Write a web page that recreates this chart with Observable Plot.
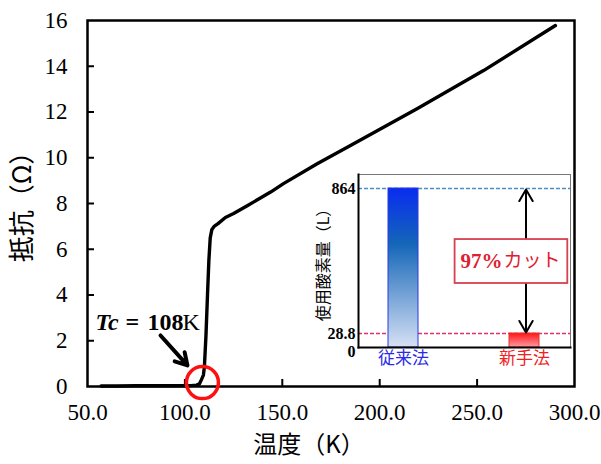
<!DOCTYPE html>
<html>
<head>
<meta charset="utf-8">
<script src="https://cdn.jsdelivr.net/npm/d3@7"></script>
<script src="https://cdn.jsdelivr.net/npm/@observablehq/plot@0.6"></script>
<style>
  body { margin: 0; background: white; }
  #chart { position: relative; width: 601px; height: 464px; background: white; }
  #chart svg { position: absolute; overflow: visible; }
</style>
</head>
<body>
<div id="chart"></div>
<script>
// ---- Main chart data ----
const temperature = [57, 65, 75, 85, 95, 103, 106, 107.5, 108.5, 109.5, 110, 110.8, 111.6, 112.3, 113, 113.8, 115, 117, 120.8, 125, 132, 144, 150.6, 167.9, 185, 219.4, 253.3, 290.2];
const resistance  = [0.02, 0.02, 0.03, 0.03, 0.03, 0.04, 0.06, 0.12, 0.3, 0.5, 0.85, 2.2, 4.0, 5.5, 6.5, 6.85, 7.0, 7.12, 7.39, 7.56, 7.9, 8.5, 8.87, 9.74, 10.54, 12.15, 13.81, 15.78];
const xTicks = [50, 100, 150, 200, 250, 300];
const yTicks = [0, 2, 4, 6, 8, 10, 12, 14, 16];
const xLabel = "温度（K）";
const yLabel = "抵抗（Ω）";
const tcParts = ["Tc", "=", "108", "K"];
const tcValue = 109;

// ---- Inset data ----
const methods = ["従来法", "新手法"];
const oxygen = [864, 28.8];
const insetTicks = [0, 28.8, 864];
const insetLabel = "使用酸素量（L）";
const cutLabelNum = "97%";
const cutLabelKana = "カット";

const curve = temperature.map((t, i) => ({t, r: resistance[i]}));
const serif = "Liberation Serif, Times New Roman, Noto Sans CJK JP, serif";
const cjk = "Noto Sans CJK JP, Liberation Serif, sans-serif";

const main = Plot.plot({
  width: 601, height: 464,
  marginLeft: 87, marginRight: 27, marginTop: 20, marginBottom: 78,
  style: {fontFamily: serif, fontSize: "23px", color: "black", background: "transparent", overflow: "visible"},
  x: {domain: [50, 300]},
  y: {domain: [0, 16]},
  marks: [
    Plot.axisX(xTicks, {tickSize: 0, tickPadding: 17, tickFormat: d => d.toFixed(1), label: null, fontFamily: serif, fontSize: 23}),
    Plot.axisX(xTicks.slice(1, -1), {tickSize: -7, fill: "none", strokeWidth: 2, label: null}),
    Plot.axisY(yTicks, {tickSize: 0, tickPadding: 20, label: null, fontFamily: serif, fontSize: 23}),
    Plot.axisY(yTicks.slice(1, -1), {tickSize: -7, fill: "none", strokeWidth: 2, label: null}),
    Plot.line(curve, {x: "t", y: "r", stroke: "black", strokeWidth: 3.4, strokeLinejoin: "round", strokeLinecap: "round"}),
    Plot.frame({stroke: "black", strokeWidth: 2.5}),
    Plot.text([xLabel], {frameAnchor: "bottom", textAnchor: "middle", dy: 66, dx: -22, fontSize: 24, fontFamily: cjk}),
    Plot.text([yLabel], {frameAnchor: "left", textAnchor: "middle", rotate: -90, dx: -65, dy: -3, fontSize: 26, fontFamily: cjk}),
    // Tc annotation
    Plot.text([tcParts[0]], {x: 54.1, y: 2.8, textAnchor: "start", fontSize: 24, fontWeight: "bold", fontStyle: "italic", fontFamily: serif}),
    Plot.text([tcParts[1]], {x: 54.1, y: 2.8, textAnchor: "start", dx: 30, fontSize: 24, fontWeight: "bold", fontFamily: serif}),
    Plot.text([tcParts[2]], {x: 54.1, y: 2.8, textAnchor: "start", dx: 52, fontSize: 24, fontWeight: "bold", fontFamily: serif}),
    Plot.text([tcParts[3]], {x: 54.1, y: 2.8, textAnchor: "start", dx: 87, fontSize: 24, fontFamily: serif}),
    Plot.arrow([0], {x1: 87.5, y1: 2.23, x2: 101.3, y2: 0.92, stroke: "black", strokeWidth: 4, headLength: 14}),
    Plot.dot([tcValue], {x: d => d, y: 0.17, r: 16, stroke: "#ff1010", strokeWidth: 3.5, fill: "none"})
  ]
});
main.style.left = "0px";
main.style.top = "0px";

const bars = methods.map((m, i) => ({m, v: oxygen[i]}));
const barFill = {"従来法": "url(#gradBlue)", "新手法": "url(#gradRed)"};
const barStroke = {"従来法": "#2a3ae0", "新手法": "#e83030"};
const labelColor = {"従来法": "#2a2ae8", "新手法": "#f02020"};

const inset = Plot.plot({
  width: 290, height: 210,
  marginLeft: 58, marginRight: 20, marginTop: 9, marginBottom: 28,
  style: {fontFamily: serif, fontSize: "16px", color: "black", background: "transparent", overflow: "visible"},
  x: {domain: methods, paddingInner: 0.75, paddingOuter: 0.25, axis: null},
  y: {type: "linear", domain: [0, 28.8, 864], range: [182, 168, 23], axis: null},
  marks: [
    Plot.frame({fill: "white", stroke: "#777", strokeWidth: 1}),
    Plot.ruleY([insetTicks[2]], {stroke: "#4a8ec4", strokeWidth: 1.3, strokeDasharray: "4,2"}),
    Plot.ruleY([insetTicks[1]], {stroke: "#e0306a", strokeWidth: 1.3, strokeDasharray: "4,2"}),
    Plot.barY(bars, {x: "m", y: "v", fill: d => barFill[d.m], stroke: d => barStroke[d.m], strokeWidth: 1}),
    Plot.axisY(insetTicks.slice(1), {tickSize: 0, tickPadding: 3, fontWeight: "bold", fontFamily: serif, fontSize: 16, tickFormat: d => String(d), label: null}),
    Plot.axisY(insetTicks.slice(0, 1), {tickSize: 0, tickPadding: 3, fontWeight: "bold", fontFamily: serif, fontSize: 16, tickFormat: d => String(d), dy: 4, label: null}),
    Plot.text(methods, {x: d => d, frameAnchor: "bottom", dy: 16, fill: d => labelColor[d], fontSize: 17, fontFamily: cjk}),
    Plot.text([insetLabel], {frameAnchor: "left", textAnchor: "middle", rotate: -90, dx: -35, fontSize: 16, fontFamily: cjk}),
    Plot.arrow([0], {x1: () => methods[1], x2: () => methods[1], y1: 446, y2: 864, stroke: "black", strokeWidth: 2, headLength: 10, dx: 1.5, insetEnd: 1}),
    Plot.arrow([0], {x1: () => methods[1], x2: () => methods[1], y1: 446, y2: 28.8, stroke: "black", strokeWidth: 2, headLength: 10, dx: 1.5, insetEnd: 1}),
    Plot.barY([{m: methods[1], y1: 316.8, y2: 570}], {x: "m", y1: "y1", y2: "y2", insetLeft: -54.4, insetRight: -28.3, fill: "white", stroke: "#d84050", strokeWidth: 1.8}),
    Plot.text([cutLabelNum], {x: () => methods[1], y: 446, dx: -22, textAnchor: "end", fill: "#e02030", fontWeight: "bold", fontSize: 21, fontFamily: serif}),
    Plot.text([cutLabelKana], {x: () => methods[1], y: 446, dx: -21, textAnchor: "start", fill: "#e02030", fontSize: 19, fontFamily: cjk}),
    Plot.frame({anchor: "left", stroke: "black", strokeWidth: 2}),
    Plot.frame({anchor: "bottom", stroke: "black", strokeWidth: 2})
  ]
});
inset.style.left = "300px";
inset.style.top = "165px";

const defs = d3.select(inset).insert("defs", ":first-child");
const gb = defs.append("linearGradient").attr("id", "gradBlue").attr("x1", 0).attr("y1", 0).attr("x2", 0).attr("y2", 1);
gb.append("stop").attr("offset", "0%").attr("stop-color", "#0a2cf0");
gb.append("stop").attr("offset", "35%").attr("stop-color", "#1466b8");
gb.append("stop").attr("offset", "100%").attr("stop-color", "#d6e0f4");
const gr = defs.append("linearGradient").attr("id", "gradRed").attr("x1", 0).attr("y1", 0).attr("x2", 0).attr("y2", 1);
gr.append("stop").attr("offset", "0%").attr("stop-color", "#ff1414");
gr.append("stop").attr("offset", "100%").attr("stop-color", "#ff9aa4");

const container = document.getElementById("chart");
container.appendChild(main);
container.appendChild(inset);
</script>
</body>
</html>
